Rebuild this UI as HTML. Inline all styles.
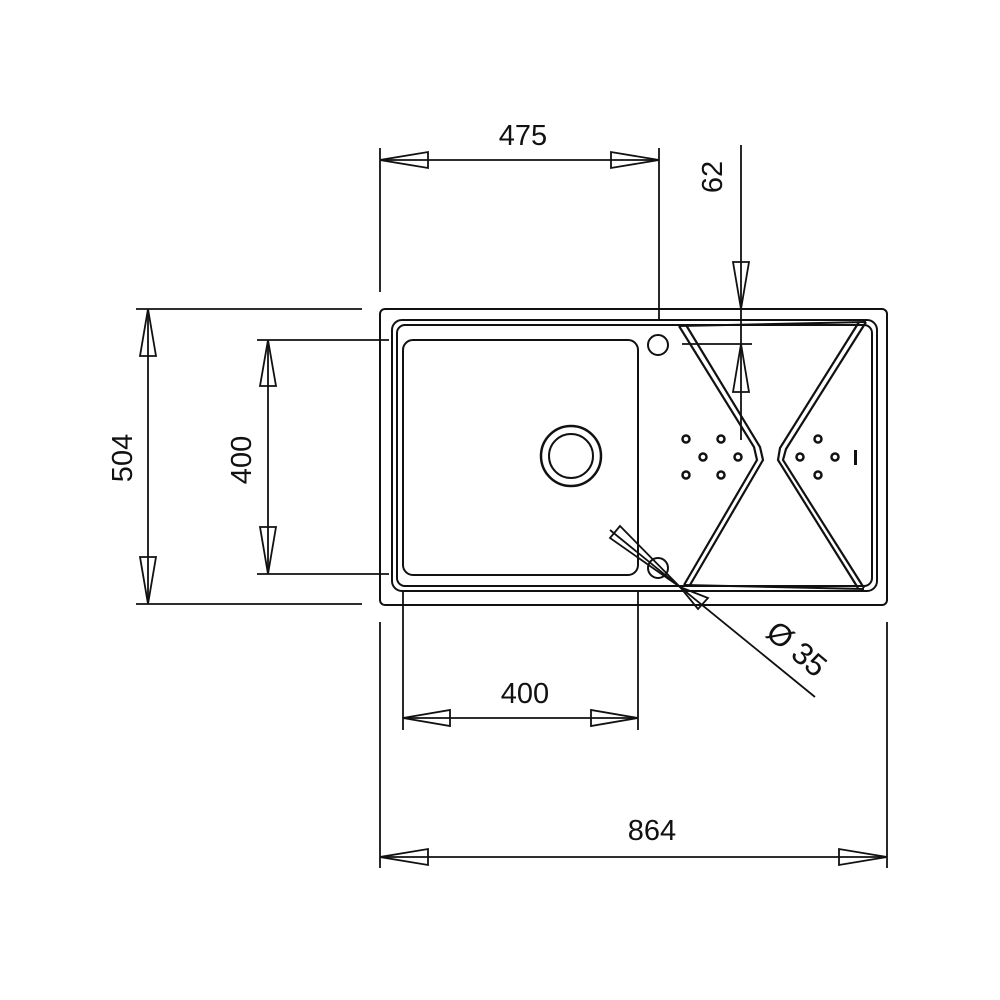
<!DOCTYPE html>
<html><head><meta charset="utf-8"><style>
html,body{margin:0;padding:0;background:#fff;}
svg{display:block}
text{font-family:"Liberation Sans",sans-serif;font-size:29px;fill:#111;}
</style></head><body>
<svg width="1000" height="1000" viewBox="0 0 1000 1000" xmlns="http://www.w3.org/2000/svg">
<g fill="none" stroke="#111" stroke-width="2">
<rect x="380" y="309" width="507" height="296" rx="5"/>
<rect x="392" y="320" width="485" height="271" rx="10"/>
<rect x="397" y="325" width="475" height="261" rx="8"/>
<rect x="403" y="340" width="235" height="235" rx="10"/>
<circle cx="571" cy="456" r="30" stroke-width="2.5"/>
<circle cx="571" cy="456" r="22"/>
<circle cx="658" cy="345" r="10"/>
<circle cx="658" cy="568" r="10"/>
<polyline points="679,326 754,447 757,460 684,585" stroke-width="2.2"/>
<polyline points="686,325 760,447 763,460 690,585" stroke-width="2.2"/>
<polyline points="859,322 780,448 778,460 858,588" stroke-width="2.2"/>
<polyline points="866,322 786,449 783,460 864,588" stroke-width="2.2"/>
<line x1="679" y1="326" x2="866" y2="322"/>
<line x1="684" y1="585" x2="864" y2="589"/>
</g>
<g fill="#111">
<circle cx="686" cy="439" r="3.5" fill="none" stroke="#111" stroke-width="2.5"/>
<circle cx="721" cy="439" r="3.5" fill="none" stroke="#111" stroke-width="2.5"/>
<circle cx="703" cy="457" r="3.5" fill="none" stroke="#111" stroke-width="2.5"/>
<circle cx="738" cy="457" r="3.5" fill="none" stroke="#111" stroke-width="2.5"/>
<circle cx="686" cy="475" r="3.5" fill="none" stroke="#111" stroke-width="2.5"/>
<circle cx="721" cy="475" r="3.5" fill="none" stroke="#111" stroke-width="2.5"/>
<circle cx="818" cy="439" r="3.5" fill="none" stroke="#111" stroke-width="2.5"/>
<circle cx="800" cy="457" r="3.5" fill="none" stroke="#111" stroke-width="2.5"/>
<circle cx="835" cy="457" r="3.5" fill="none" stroke="#111" stroke-width="2.5"/>
<circle cx="818" cy="475" r="3.5" fill="none" stroke="#111" stroke-width="2.5"/>
<rect x="854" y="450" width="3" height="15"/>
</g>
<g fill="none" stroke="#111" stroke-width="1.8">
<line x1="380" y1="148" x2="380" y2="292"/>
<line x1="659" y1="148" x2="659" y2="320"/>
<line x1="380" y1="160" x2="659" y2="160"/>
<polygon points="380,160 428,152 428,168"/>
<polygon points="659,160 611,152 611,168"/>
<line x1="741" y1="145" x2="741" y2="440"/>
<polygon points="741,309 733,262 749,262"/>
<polygon points="741,344 733,392 749,392"/>
<line x1="682" y1="344" x2="752" y2="344"/>
<line x1="136" y1="309" x2="362" y2="309"/>
<line x1="136" y1="604" x2="362" y2="604"/>
<line x1="148" y1="309" x2="148" y2="604"/>
<polygon points="148,309 140,356 156,356"/>
<polygon points="148,604 140,557 156,557"/>
<line x1="257" y1="340" x2="389" y2="340"/>
<line x1="257" y1="574" x2="389" y2="574"/>
<line x1="268" y1="340" x2="268" y2="574"/>
<polygon points="268,340 260,386 276,386"/>
<polygon points="268,574 260,527 276,527"/>
<line x1="403" y1="590" x2="403" y2="730"/>
<line x1="638" y1="590" x2="638" y2="730"/>
<line x1="403" y1="718" x2="638" y2="718"/>
<polygon points="403,718 450,710 450,726"/>
<polygon points="638,718 591,710 591,726"/>
<line x1="380" y1="622" x2="380" y2="868"/>
<line x1="887" y1="622" x2="887" y2="868"/>
<line x1="380" y1="857" x2="887" y2="857"/>
<polygon points="380,857 428,849 428,865"/>
<polygon points="887,857 839,849 839,865"/>
<line x1="610" y1="530" x2="815" y2="697"/>
<polygon points="610,538 620,526 680,587"/>
<polygon points="680,587 708,598 698,609"/>
</g>
<text x="523" y="145" text-anchor="middle">475</text>
<text x="525" y="703" text-anchor="middle">400</text>
<text x="652" y="840" text-anchor="middle">864</text>
<text transform="translate(722,177) rotate(-90)" text-anchor="middle">62</text>
<text transform="translate(132,458) rotate(-90)" text-anchor="middle">504</text>
<text transform="translate(251,460) rotate(-90)" text-anchor="middle">400</text>
<text transform="translate(790,657) rotate(40)" text-anchor="middle" style="font-size:31px">Ø 35</text>
</svg>
</body></html>
